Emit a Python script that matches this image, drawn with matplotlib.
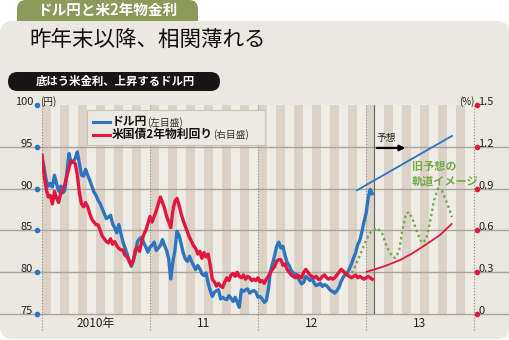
import numpy as np
import matplotlib
matplotlib.use('Agg')
import matplotlib.pyplot as plt
from matplotlib.patches import FancyBboxPatch, Rectangle

plt.rcParams['font.family'] = ['Noto Sans CJK JP', 'DejaVu Sans']

# weekly readings, first week of Jan 2010 onward
usdjpy = [
    93.8, 92.5, 91.0, 90.3, 90.6, 90.2, 91.6, 90.6, 89.7, 90.3,
    89.5, 89.8, 92.0, 94.2, 93.1, 93.2, 93.6, 94.4, 93.0, 91.6,
    91.5, 92.3, 91.6, 91.0, 90.3, 89.6, 89.2, 88.6, 88.2, 87.6,
    87.0, 86.4, 86.6, 86.8, 85.8, 85.3, 84.7, 85.7, 84.6, 83.6,
    82.9, 82.2, 81.3, 80.7, 81.4, 82.4, 83.7, 84.0, 84.2, 83.5,
    83.0, 82.4, 83.0, 83.2, 83.6, 82.6, 82.9, 83.2, 83.9, 83.2,
    82.6, 81.6, 79.2, 81.2, 82.6, 84.9, 84.4, 83.4, 82.3, 81.6,
    81.3, 81.9, 81.3, 80.8, 80.3, 80.8, 80.4, 79.8, 79.6, 79.9,
    78.7, 77.8, 77.1, 77.6, 77.8, 77.9, 76.8, 77.0, 76.8, 76.7,
    77.2, 76.9, 76.5, 77.0, 76.4, 75.8, 77.9, 77.7, 77.9, 78.0,
    77.5, 77.7, 77.8, 77.6, 77.0, 77.1, 76.8, 76.4, 76.6, 78.0,
    80.1, 81.0, 82.0, 83.1, 83.6, 82.9, 83.1, 82.0, 81.2, 80.8,
    80.2, 79.9, 79.8, 79.4, 79.0, 78.6, 78.8, 79.5, 79.3, 79.0,
    79.3, 78.7, 78.4, 78.5, 78.7, 78.3, 78.5, 78.4, 78.1, 77.8,
    77.7, 77.5, 77.8, 78.2, 78.9, 79.4, 79.7, 79.9, 80.4, 81.0,
    81.7, 82.3, 83.3, 83.8, 84.8, 86.0, 87.0, 88.8, 89.9, 89.4,
]
ust2y = [
    1.14, 1.00, 0.90, 0.84, 0.85, 0.79, 0.88, 0.83, 0.80, 0.87,
    0.89, 0.93, 0.99, 1.05, 1.10, 1.09, 1.08, 1.00, 0.87, 0.79,
    0.77, 0.80, 0.77, 0.72, 0.68, 0.66, 0.64, 0.64, 0.60, 0.56,
    0.54, 0.52, 0.51, 0.54, 0.50, 0.52, 0.49, 0.47, 0.46, 0.46,
    0.42, 0.41, 0.38, 0.35, 0.39, 0.46, 0.48, 0.45, 0.52, 0.57,
    0.60, 0.65, 0.70, 0.66, 0.70, 0.74, 0.79, 0.84, 0.80, 0.76,
    0.70, 0.66, 0.62, 0.74, 0.81, 0.83, 0.78, 0.72, 0.67, 0.63,
    0.59, 0.55, 0.52, 0.49, 0.47, 0.43, 0.45, 0.40, 0.44, 0.41,
    0.43, 0.35, 0.25, 0.23, 0.20, 0.22, 0.20, 0.19, 0.23, 0.26,
    0.24, 0.28, 0.29, 0.27, 0.30, 0.27, 0.26, 0.28, 0.25, 0.27,
    0.26, 0.24, 0.25, 0.24, 0.26, 0.23, 0.24, 0.22, 0.25, 0.27,
    0.30, 0.32, 0.34, 0.38, 0.39, 0.39, 0.35, 0.36, 0.32, 0.30,
    0.28, 0.27, 0.26, 0.28, 0.27, 0.26, 0.30, 0.32, 0.30, 0.28,
    0.27, 0.26, 0.27, 0.25, 0.25, 0.27, 0.28, 0.26, 0.25, 0.26,
    0.25, 0.26, 0.28, 0.30, 0.32, 0.31, 0.29, 0.28, 0.27, 0.26,
    0.27, 0.28, 0.26, 0.27, 0.26, 0.25, 0.26, 0.27, 0.26, 0.25,
]
weeks = np.arange(len(usdjpy))
t = 2010 + weeks / 52.0

# forecast sketches
fc_usd_t = [2012.917, 2013.796]
fc_usd = [89.8, 96.3]
fc_ust_t = [2013.006, 2013.157, 2013.315, 2013.435, 2013.562, 2013.685, 2013.793]
fc_ust = [0.303, 0.339, 0.387, 0.438, 0.502, 0.567, 0.646]
old_t = [2012.870, 2012.926, 2012.991, 2013.037, 2013.102, 2013.148, 2013.194,
         2013.241, 2013.269, 2013.306, 2013.333, 2013.370, 2013.398, 2013.435,
         2013.481, 2013.519, 2013.556, 2013.593, 2013.630, 2013.667, 2013.704,
         2013.750, 2013.796]
old_usd = [79.9, 81.5, 83.5, 84.7, 85.3, 84.7, 83.0, 81.9, 81.7, 82.5, 84.7,
           87.0, 87.2, 86.2, 84.5, 83.5, 83.9, 86.0, 88.6, 90.0, 89.7, 88.3, 86.6]

left_ticks = [75, 80, 85, 90, 95, 100]
right_ticks = [0, 0.3, 0.6, 0.9, 1.2, 1.5]
right_labels = ['0', '0.3', '0.6', '0.9', '1.2', '1.5']
year_pos = [2010.5, 2011.5, 2012.5, 2013.5]
year_labels = ['2010年', '11', '12', '13']

BLUE = '#2f74bf'
RED = '#e2173d'
GREEN = '#74ab4a'
INK = '#222222'

fig = plt.figure(figsize=(5.1, 3.4), dpi=100)
fig.patch.set_facecolor('white')

# background panel in pixel units
bg = fig.add_axes([0, 0, 1, 1])
bg.set_xlim(0, 510)
bg.set_ylim(340, 0)
bg.axis('off')
bg.add_patch(FancyBboxPatch((17, 0), 181, 40, boxstyle='round,pad=0,rounding_size=9',
                            fc='#8e9a5c', ec='none'))
bg.add_patch(FancyBboxPatch((0, 21), 510, 318, boxstyle='round,pad=0,rounding_size=13',
                            fc='#ebe8e1', ec='none'))
bg.add_patch(FancyBboxPatch((8, 72), 212, 19, boxstyle='round,pad=0,rounding_size=9.5',
                            fc='#161616', ec='none'))
bg.text(107, 10, 'ドル円と米2年物金利', color='white', fontsize=10.5, fontweight='bold',
        ha='center', va='center')
bg.text(29, 40, '昨年末以降、相関薄れる', color='#111111', fontsize=15.5,
        ha='left', va='center')
bg.text(115, 81.5, '底はう米金利、上昇するドル円', color='white', fontsize=8.2,
        fontweight='bold', ha='center', va='center')

ax = fig.add_axes([42 / 510, 26 / 340, 432 / 510, 209 / 340])
ax.set_xlim(2010, 2014)
ax.set_ylim(75, 100)
ax.set_facecolor('#efece6')
for m in range(0, 48, 2):
    ax.axvspan(2010 + m / 12, 2010 + (m + 1) / 12, color='#dbd3c7', lw=0, zorder=0)
for v in left_ticks[:-1]:
    ax.axhline(v, xmin=-42 / 432, xmax=468 / 432, color='#aaa49b', lw=1.0,
               clip_on=False, zorder=1)
for yr in [2010, 2011, 2012, 2013, 2014]:
    ax.plot([yr, yr], [73.1, 100], ls=':', color='#8f8a84', lw=0.8,
            clip_on=False, zorder=2)
ax.plot([2013.074, 2013.074], [75, 100], color='#666666', lw=0.8, zorder=2)

for s in ax.spines.values():
    s.set_visible(False)
ax.set_yticks(left_ticks, labels=[str(v) for v in left_ticks])
ax.set_xticks(year_pos, labels=year_labels)
ax.tick_params(axis='y', length=0, pad=6.5, labelsize=8, labelcolor=INK)
ax.tick_params(axis='x', length=0, pad=2, labelsize=8.5, labelcolor=INK)
for lab in ax.get_yticklabels():
    lab.set_verticalalignment('baseline')
ax.plot(np.full(len(left_ticks), 2009.954), left_ticks, 'o', color=BLUE, ms=3,
        clip_on=False, zorder=5)
ax.text(2009.985, 100, '(円)', ha='left', va='baseline', fontsize=7, color=INK)
ax.text(2014.008, 100, '(%)', ha='right', va='baseline', fontsize=7, color=INK)

ax.plot(t, usdjpy, color=BLUE, lw=2.4, zorder=3)
ax.plot(fc_usd_t, fc_usd, color=BLUE, lw=1.3, zorder=3)
ax.plot(old_t, old_usd, color=GREEN, lw=1.7, ls=(0, (1, 1.3)), zorder=3)

ax2 = ax.twinx()
ax2.set_ylim(0, 1.5)
for s in ax2.spines.values():
    s.set_visible(False)
ax2.set_yticks(right_ticks, labels=right_labels)
ax2.tick_params(axis='y', length=0, pad=3, labelsize=8, labelcolor=INK)
for lab in ax2.get_yticklabels():
    lab.set_verticalalignment('baseline')
ax2.plot(np.full(len(right_ticks), 2014.028), right_ticks, 'o', color=RED, ms=3,
         clip_on=False, zorder=5)
ax2.plot(t, ust2y, color=RED, lw=2.4, zorder=3)
ax2.plot(fc_ust_t, fc_ust, color=RED, lw=1.3, zorder=3)

ax.annotate('', xy=(2013.39, 94.86), xytext=(2013.074, 94.86),
            arrowprops=dict(arrowstyle='-|>', color='black', lw=1.6, mutation_scale=8))
ax.text(2013.185, 95.5, '予想', ha='center', va='bottom', fontsize=7, color=INK)
ax.text(2013.426, 92.6, '旧予想の', ha='left', va='center', fontsize=8,
        fontweight='bold', color=GREEN)
ax.text(2013.426, 90.9, '軌道イメージ', ha='left', va='center', fontsize=8,
        fontweight='bold', color=GREEN)

# legend box in pixel units, on top
ov = fig.add_axes([0, 0, 1, 1], zorder=10)
ov.set_xlim(0, 510)
ov.set_ylim(340, 0)
ov.axis('off')
ov.patch.set_alpha(0)
ov.add_patch(Rectangle((87, 110), 178, 35, fc='#ece9e3', ec='#c9c4bb', lw=0.8))
ov.plot([93, 110], [122, 122], color=BLUE, lw=2.2)
ov.plot([93, 110], [134.5, 134.5], color=RED, lw=2.2)
ov.text(112, 122, 'ドル円', ha='left', va='center', fontsize=8.5, fontweight='bold',
        color='#111111')
ov.text(147, 122.5, '(左目盛)', ha='left', va='center', fontsize=7, color='#333333')
ov.text(112, 134.5, '米国債2年物利回り', ha='left', va='center', fontsize=8.5,
        fontweight='bold', color='#111111')
ov.text(213, 135, '(右目盛)', ha='left', va='center', fontsize=7, color='#333333')

fig.savefig('out.png', dpi=100)
